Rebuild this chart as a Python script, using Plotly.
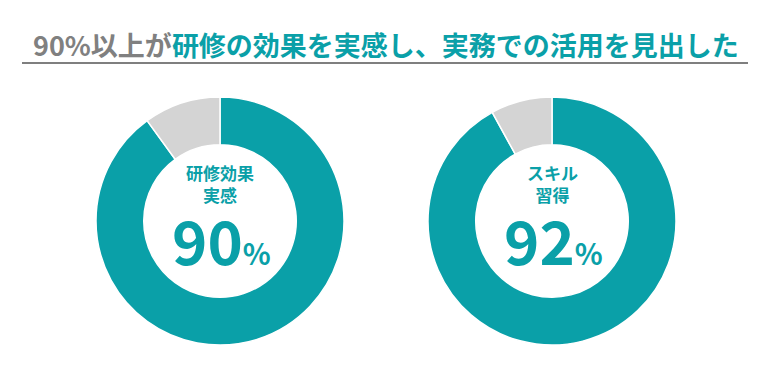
import plotly.graph_objects as go

W, H = 772, 376
labels = ["該当", "その他"]
effect_vals = [90, 10]
skill_vals = [92, 8]
center_labels = ["研修効果<br>実感", "スキル<br>習得"]
pct_labels = ["90", "92"]
title_gray = "90%以上が"
title_teal = "研修の効果を実感し、実務での活用を見出した"

TEAL = "#0aa0a8"
GRAY = "#d4d4d4"
FONT = "Noto Sans CJK JP"

def dom(cx, cy, r):
    return dict(x=[(cx - r) / W, (cx + r) / W], y=[(H - cy - r) / H, (H - cy + r) / H])

fig = go.Figure()
centers = [(220, 220), (552, 220)]
for vals, (cx, cy) in zip([effect_vals, skill_vals], centers):
    fig.add_trace(go.Pie(
        labels=labels, values=vals, hole=0.615, sort=False, direction="clockwise",
        rotation=0, textinfo="none", hoverinfo="label+value",
        marker=dict(colors=[TEAL, GRAY], line=dict(color="white", width=1.5)),
        domain=dom(cx, cy + 1, 124), showlegend=False,
    ))

anns = []
for (cx, cy), cl, pl in zip(centers, center_labels, pct_labels):
    anns.append(dict(x=cx / W, y=(H - 183) / H, xref="paper", yref="paper",
                     xanchor="center", yanchor="middle",
                     text=f"<b>{cl}</b>", showarrow=False,
                     font=dict(family=FONT, size=17, color=TEAL), align="center"))
    anns.append(dict(x=(cx + 1) / W, y=(H - 238) / H, xref="paper", yref="paper",
                     xanchor="center", yanchor="middle",
                     text=f"<b>{pl}</b><span style='font-size:29px'><b>%</b></span>",
                     showarrow=False, font=dict(family=FONT, size=60, color=TEAL)))

anns.append(dict(x=0.5, y=(H - 44) / H, xref="paper", yref="paper", showarrow=False,
                 xanchor="center", yanchor="middle",
                 text=f"<b><span style='color:#808080'>{title_gray}</span>{title_teal}</b>",
                 font=dict(family=FONT, size=27, color=TEAL)))

fig.update_layout(
    width=W, height=H, margin=dict(l=0, r=0, t=0, b=0),
    paper_bgcolor="white", plot_bgcolor="white", annotations=anns,
    shapes=[dict(type="line", xref="paper", yref="paper", x0=22 / W, x1=748 / W,
                 y0=(H - 63) / H, y1=(H - 63) / H, line=dict(color="#7f7f7f", width=2))],
)
fig.write_html("out.html", config={"displayModeBar": False},
               post_script="document.body.style.margin='0';")
